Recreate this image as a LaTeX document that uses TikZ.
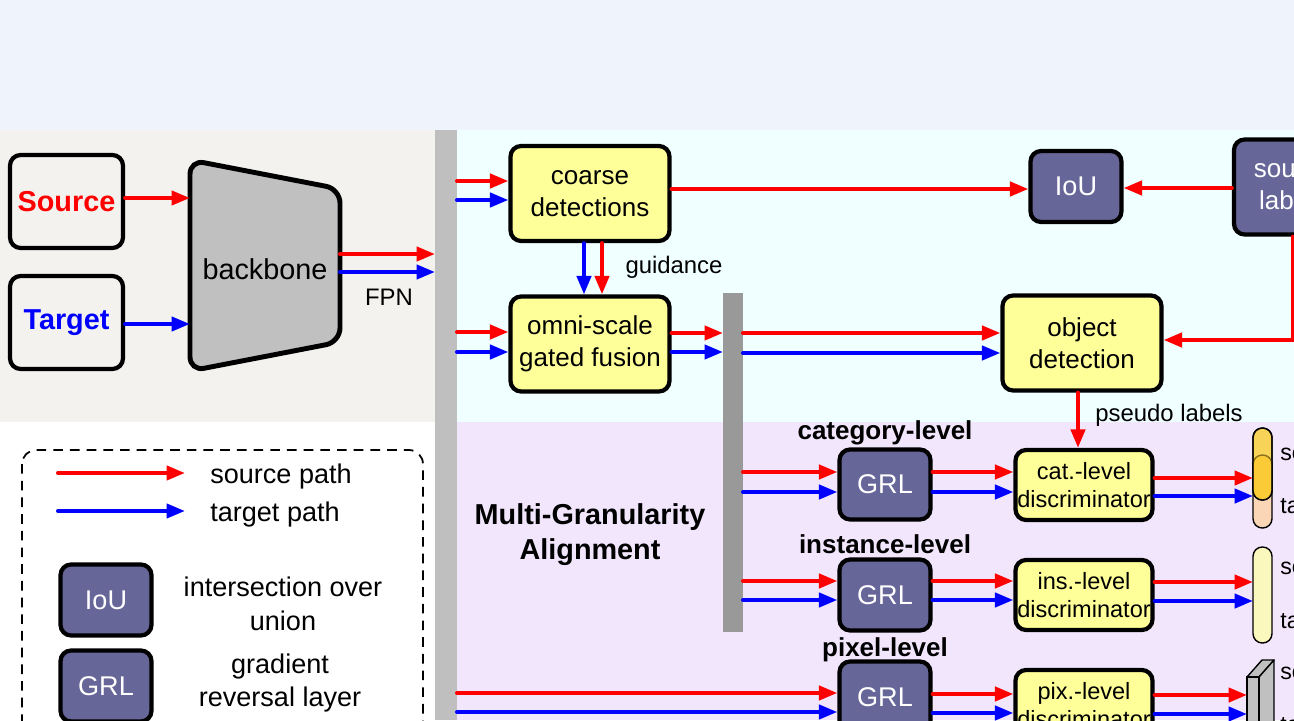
\documentclass[tikz,border=0pt]{standalone}
\usepackage{fontspec}
\setmainfont{Liberation Sans}
\usetikzlibrary{arrows.meta}
\definecolor{yfill}{RGB}{255,255,153}
\definecolor{pfill}{RGB}{102,102,153}
\definecolor{bbgray}{RGB}{192,192,192}
\definecolor{barone}{RGB}{191,191,191}
\definecolor{bartwo}{RGB}{153,153,153}
\definecolor{topbg}{RGB}{239,244,252}
\definecolor{leftbg}{RGB}{243,242,238}
\definecolor{cyanbg}{RGB}{240,255,255}
\definecolor{lavbg}{RGB}{242,230,252}
\definecolor{capY}{RGB}{247,212,88}
\definecolor{capO}{RGB}{250,202,55}
\definecolor{capP}{RGB}{251,214,182}
\definecolor{capL}{RGB}{251,248,190}
\tikzset{
  srcarrow/.style={draw=red, line width=2.3pt, line cap=round, -{Triangle[length=10.5pt,width=8pt]}},
  tgtarrow/.style={draw=blue, line width=2.3pt, line cap=round, -{Triangle[length=10.5pt,width=8pt]}},
  rbox/.style={draw=black, line width=2.4pt, rounded corners=6pt, inner sep=0pt, align=center},
  plainbox/.style={rbox, minimum width=2.26cm, minimum height=1.86cm, font=\fontsize{16.4}{19}\selectfont\bfseries},
  ybox/.style={rbox, fill=yfill, minimum width=3.18cm, minimum height=1.9cm, font=\fontsize{14.8}{18.2}\selectfont},
  pbox/.style={rbox, fill=pfill, text=white, minimum width=1.82cm, minimum height=1.42cm, font=\fontsize{15.4}{18.2}\selectfont},
  dbox/.style={rbox, fill=yfill, minimum width=2.74cm, minimum height=1.4cm, font=\fontsize{13.4}{16}\selectfont},
  barbox/.style={inner sep=0pt, outer sep=0pt, draw=none},
  lvl/.style={font=\fontsize{14.8}{18}\selectfont\bfseries, inner sep=0pt},
  lbl/.style={font=\fontsize{13.6}{16}\selectfont, inner sep=0pt},
  legtext/.style={font=\fontsize{15.4}{19.3}\selectfont, align=center, inner sep=0pt},
  caplbl/.style={font=\fontsize{13.2}{16}\selectfont, inner sep=0pt, anchor=west},
  ghost/.style={inner sep=0pt, outer sep=0pt, draw=none},
  capsule/.style={draw=black, line width=0.8pt, rounded corners=5.3pt}
}
\begin{document}
\begin{tikzpicture}[x=0.02cm, y=-0.02cm]
\useasboundingbox (0,0) rectangle (1294,720);
\clip (0,0) rectangle (1294,720);
% backgrounds
\fill[topbg] (0,0) rectangle (1294,130);
\fill[leftbg] (0,130) rectangle (435,422);
\fill[white] (0,422) rectangle (435,720);
\fill[cyanbg] (457,130) rectangle (1294,422);
\fill[lavbg] (457,422) rectangle (1294,720);
\node[barbox, fill=barone, minimum width=0.44cm, minimum height=11.8cm] (bar1) at (446,425) {};
\node[barbox, fill=bartwo, minimum width=0.4cm, minimum height=6.78cm] (bar2) at (733,462.5) {};

% left part
\node[plainbox, text=red] (src) at (66.5,201.5) {Source};
\node[plainbox, text=blue] (tgt) at (66.5,322.5) {Target};
\draw[line width=2.8pt, fill=bbgray, rounded corners=8pt] (190,160) -- (340,189) -- (340,342) -- (190,371) -- cycle;
\node[ghost, minimum width=3cm, minimum height=4.2cm, font=\fontsize{16.4}{19}\selectfont] (bb) at (265,269) {backbone};
\draw[srcarrow] (src.east |- 0,198) -- (bb.west |- 0,198);
\draw[tgtarrow] (tgt.east |- 0,324) -- (bb.west |- 0,324);
\draw[srcarrow] (bb.east |- 0,254) -- (bar1.west |- 0,254);
\draw[tgtarrow] (bb.east |- 0,272) -- (bar1.west |- 0,272);
\node[lbl] (fpn) at (389,297) {FPN};

% top right part
\node[ybox] (coarse) at (590,193.5) {coarse\\detections};
\node[ybox] (omni) at (590,344) {omni-scale\\gated fusion};
\node[ybox] (objdet) at (1082,343) {object\\detection};
\node[pbox] (iou) at (1076,186.5) {IoU};
\node[pbox, minimum width=2.36cm, minimum height=1.9cm, font=\fontsize{14.8}{18.2}\selectfont] (srclab) at (1293,187) {source\\labels};

\draw[srcarrow] (bar1.east |- 0,181) -- (coarse.west |- 0,181);
\draw[tgtarrow] (bar1.east |- 0,200) -- (coarse.west |- 0,200);
\draw[srcarrow] (bar1.east |- 0,332) -- (omni.west |- 0,332);
\draw[tgtarrow] (bar1.east |- 0,352) -- (omni.west |- 0,352);
\draw[tgtarrow] (coarse.south -| 584,0) -- (omni.north -| 584,0);
\draw[srcarrow] (coarse.south -| 602,0) -- (omni.north -| 602,0);
\node[lbl] (guid) at (674,267) {guidance};
\draw[srcarrow] (omni.east |- 0,333) -- (bar2.west |- 0,333);
\draw[tgtarrow] (omni.east |- 0,352) -- (bar2.west |- 0,352);
\draw[srcarrow] (bar2.east |- 0,333) -- (objdet.west |- 0,333);
\draw[tgtarrow] (bar2.east |- 0,353) -- (objdet.west |- 0,353);
\draw[srcarrow] (coarse.east |- 0,189) -- (iou.west |- 0,189);
\draw[srcarrow] (srclab.west |- 0,188) -- (iou.east |- 0,188);
\draw[srcarrow] (srclab.south) |- (objdet.east |- 0,340);

% bottom right part
\node[lvl] (lcat) at (885,433) {category-level};
\node[lvl] (lins) at (885,544) {instance-level};
\node[lvl] (lpix) at (885,650) {pixel-level};
\node[pbox, minimum height=1.4cm] (grl1) at (885,484.5) {GRL};
\node[pbox] (grl2) at (885,595) {GRL};
\node[pbox] (grl3) at (885,697) {GRL};
\node[dbox] (disc1) at (1084,485) {cat.-level\\discriminator};
\node[dbox] (disc2) at (1084,595) {ins.-level\\discriminator};
\node[dbox] (disc3) at (1084,705) {pix.-level\\discriminator};
\node[font=\fontsize{16.4}{20}\selectfont\bfseries, align=center, inner sep=0pt] (mga) at (590,535) {Multi-Granularity\\Alignment};

\draw[srcarrow] (objdet.south -| 1078,0) -- (disc1.north -| 1078,0);
\node[lbl] (pseudo) at (1169,415) {pseudo labels};

\draw[srcarrow] (bar2.east |- 0,472) -- (grl1.west |- 0,472);
\draw[tgtarrow] (bar2.east |- 0,492) -- (grl1.west |- 0,492);
\draw[srcarrow] (bar2.east |- 0,581) -- (grl2.west |- 0,581);
\draw[tgtarrow] (bar2.east |- 0,600) -- (grl2.west |- 0,600);
\draw[srcarrow] (bar1.east |- 0,693) -- (grl3.west |- 0,693);
\draw[tgtarrow] (bar1.east |- 0,712) -- (grl3.west |- 0,712);
\draw[srcarrow] (grl1.east |- 0,472) -- (disc1.west |- 0,472);
\draw[tgtarrow] (grl1.east |- 0,492) -- (disc1.west |- 0,492);
\draw[srcarrow] (grl2.east |- 0,581) -- (disc2.west |- 0,581);
\draw[tgtarrow] (grl2.east |- 0,600) -- (disc2.west |- 0,600);
\draw[srcarrow] (grl3.east |- 0,694) -- (disc3.west |- 0,694);
\draw[tgtarrow] (grl3.east |- 0,713) -- (disc3.west |- 0,713);

% domain outputs
\filldraw[capsule, fill=capP] (1253,455) rectangle (1272,528);
\filldraw[capsule, fill=capY] (1253,428) rectangle (1272,500);
\begin{scope}
  \clip[rounded corners=5.3pt] (1253,428) rectangle (1272,500);
  \fill[capO, rounded corners=5.3pt] (1253,455) rectangle (1272,528);
  \draw[capsule, draw=black!45!capO] (1253,455) rectangle (1272,528);
\end{scope}
\draw[capsule] (1253,428) rectangle (1272,500);
\node[ghost, minimum width=0.38cm, minimum height=2cm] (cap1) at (1262.5,478) {};
\filldraw[capsule, fill=capL] (1253,547) rectangle (1272,643);
\node[ghost, minimum width=0.38cm, minimum height=1.92cm] (cap2) at (1262.5,595) {};
\filldraw[fill=bbgray, draw=black, line width=0.8pt, line join=round] (1247,677) -- (1259,677) -- (1274,660) -- (1262,660) -- cycle;
\filldraw[fill=bbgray, draw=black, line width=0.8pt, line join=round] (1259,677) -- (1274,660) -- (1274,760) -- (1259,760) -- cycle;
\filldraw[fill=bbgray, draw=black, line width=0.8pt] (1247,677) rectangle (1259,760);
\node[ghost, minimum width=0.24cm, minimum height=1.66cm] (cube) at (1253,718.5) {};

\draw[srcarrow] (disc1.east |- 0,478) -- (cap1.west |- 0,478);
\draw[tgtarrow] (disc1.east |- 0,496) -- (cap1.west |- 0,496);
\draw[srcarrow] (disc2.east |- 0,582) -- (cap2.west |- 0,582);
\draw[tgtarrow] (disc2.east |- 0,601) -- (cap2.west |- 0,601);
\draw[srcarrow] (disc3.east |- 0,695) -- (cube.west |- 0,695);
\draw[tgtarrow] (disc3.east |- 0,714) -- (cube.west |- 0,714);

\node[caplbl] (s1) at (1280,454) {source};
\node[caplbl] (t1) at (1280,508) {target};
\node[caplbl] (s2) at (1280,568) {source};
\node[caplbl] (t2) at (1280,623) {target};
\node[caplbl] (s3) at (1280,673) {source};
\node[caplbl] (t3) at (1280,727) {target};

% legend
\draw[dashed, line width=1pt, dash pattern=on 5.5pt off 4pt, rounded corners=8pt] (22,450) rectangle (423,770);
\coordinate (lgs0) at (58,473);
\coordinate (lgs1) at (185,473);
\coordinate (lgt0) at (58,511);
\coordinate (lgt1) at (185,511);
\draw[srcarrow] (lgs0) -- (lgs1);
\draw[tgtarrow] (lgt0) -- (lgt1);
\node[legtext] (lgst) at (281,476) {source path};
\node[legtext] (lgtt) at (275,514) {target path};
\node[pbox] (lgiou) at (106,600) {IoU};
\node[pbox] (lggrl) at (106,686) {GRL};
\node[legtext] (lgioutxt) at (283,604) {intersection over\\union};
\node[legtext] (lggrltxt) at (280,683) {gradient\\reversal layer};
\end{tikzpicture}
\end{document}
